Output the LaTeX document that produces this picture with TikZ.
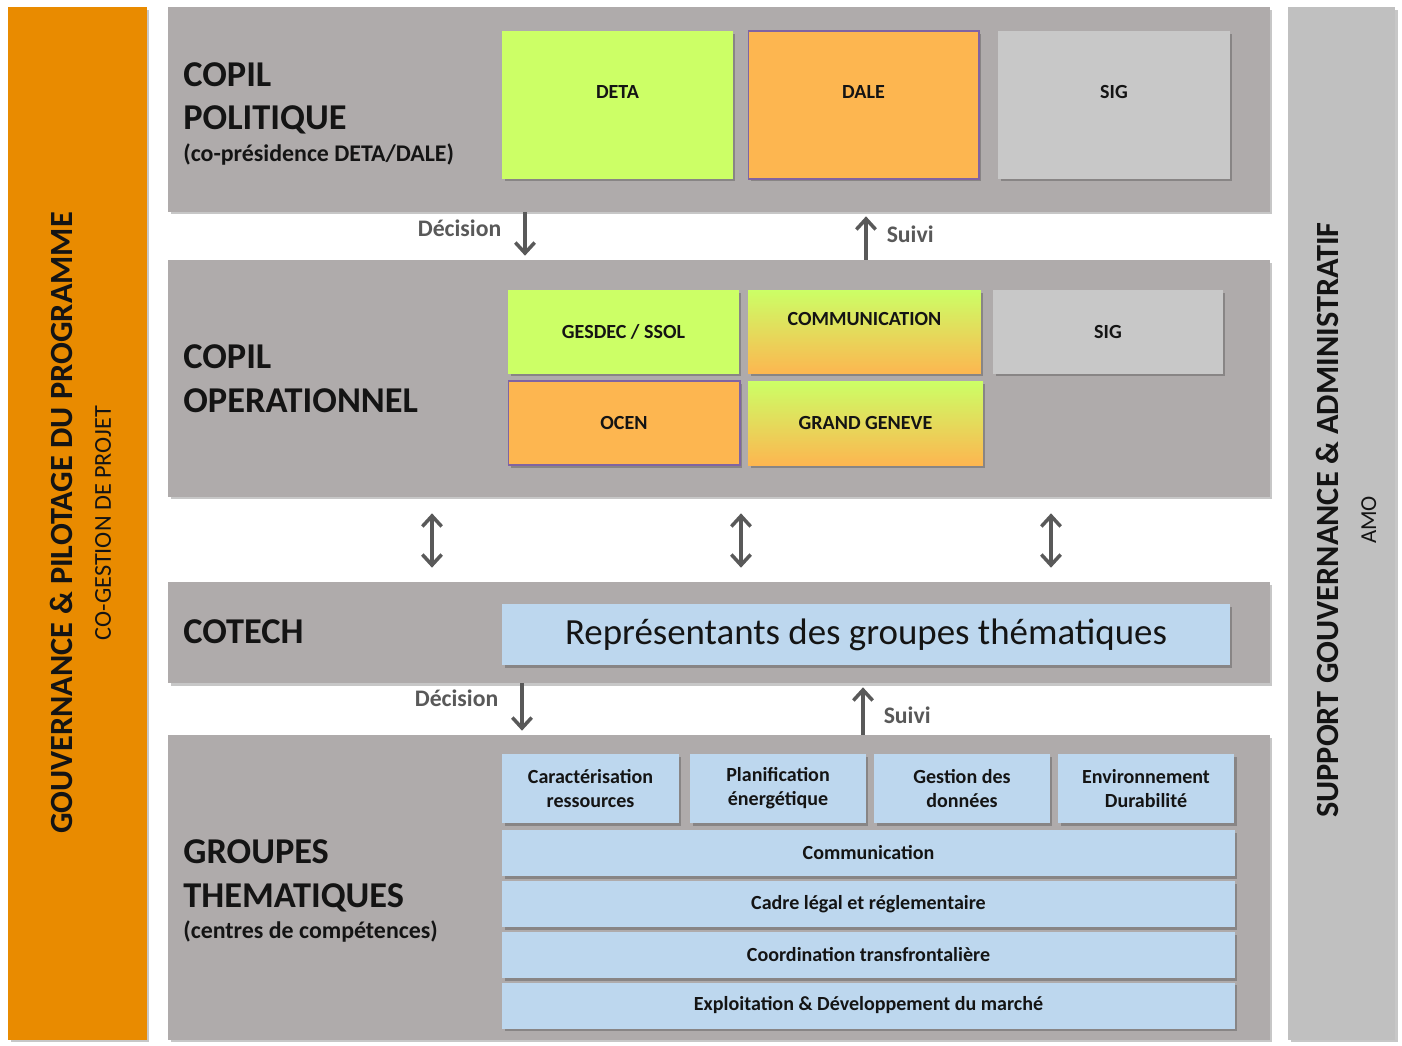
\documentclass[tikz,border=0pt]{standalone}
\usepackage{fontspec}
\setmainfont{Carlito}
\usetikzlibrary{positioning,arrows.meta,shadows}

\definecolor{panelgray}{RGB}{175,171,171}
\definecolor{barorange}{RGB}{233,139,0}
\definecolor{bargrey}{RGB}{192,192,192}
\definecolor{cellgreen}{RGB}{204,255,102}
\definecolor{cellorange}{RGB}{253,182,80}
\definecolor{cellpurple}{RGB}{128,100,162}
\definecolor{cellgrey}{RGB}{200,200,200}
\definecolor{cellblue}{RGB}{189,215,238}
\definecolor{arrowgray}{RGB}{89,89,89}
\definecolor{textdark}{RGB}{20,20,20}

\begin{document}
\begin{tikzpicture}[x=0.02cm,y=-0.02cm,
  boxshadow/.style={drop shadow={shadow xshift=0.05cm,shadow yshift=-0.05cm,opacity=0.22,fill=black}},
  panel/.style={fill=panelgray,minimum width=22.04cm,inner sep=0pt,boxshadow},
  sidebar/.style={minimum height=20.66cm,inner sep=0pt,boxshadow},
  cell/.style={inner sep=0pt,text=textdark,font=\bfseries\fontsize{11.4}{13.7}\selectfont,align=center,boxshadow},
  greencell/.style={cell,fill=cellgreen},
  orangecell/.style={cell,fill=cellorange,draw=cellpurple,line width=0.6pt},
  greycell/.style={cell,fill=cellgrey},
  mixcell/.style={cell,top color=cellgreen,bottom color=cellorange},
  bluecell/.style={cell,fill=cellblue},
  uptext/.style={text depth=0.52cm},
  arr/.style={draw=arrowgray,line width=2pt,-{Straight Barb[length=6pt,width=11pt]},shorten >=0.08cm},
  darr/.style={arr,{Straight Barb[length=6pt,width=11pt]}-{Straight Barb[length=6pt,width=11pt]},shorten <=0.32cm,shorten >=0.28cm},
  lbl/.style={text=arrowgray,font=\bfseries\fontsize{13.5}{16}\selectfont,inner sep=0pt},
  title/.style={anchor=base west,inner sep=0pt,text=textdark,font=\bfseries\fontsize{20.7}{24}\selectfont},
  subtitle/.style={anchor=base west,inner sep=0pt,text=textdark,font=\bfseries\fontsize{13.6}{16}\selectfont}]

  \fill[white] (0,0) rectangle (1402,1045);
  \useasboundingbox (0,0) rectangle (1402,1045);

  \node[sidebar,fill=barorange,minimum width=2.78cm] (gouv) at (77.5,523.5) {};
  \node[sidebar,fill=bargrey,minimum width=2.14cm] (support) at (1341.5,523.5) {};
  \node[rotate=90,align=center,text=textdark,font=\bfseries\fontsize{18.4}{22}\selectfont] (gouvtext) at (80.5,523) {GOUVERNANCE \& PILOTAGE DU PROGRAMME\\{\mdseries\fontsize{13.8}{16}\selectfont CO-GESTION DE PROJET}};
  \node[rotate=90,align=center,text=textdark,font=\bfseries\fontsize{18.4}{21.6}\selectfont] (supporttext) at (1346,520) {SUPPORT GOUVERNANCE \& ADMINISTRATIF\\{\mdseries\fontsize{13}{16}\selectfont AMO}};

  \node[panel,minimum height=4.10cm] (copilpol) at (719,109.5) {};
  \node[panel,minimum height=4.74cm] (copilop) at (719,378.5) {};
  \node[panel,minimum height=2.02cm] (cotech) at (719,632.5) {};
  \node[panel,minimum height=6.10cm] (groupes) at (719,887.5) {};

  \node[title] (poltitle1) at (183,86) {COPIL};
  \node[title] (poltitle2) at (183,129) {POLITIQUE};
  \node[subtitle] (poltitle3) at (183,161) {(co-présidence DETA/DALE)};
  \node[title] (optitle1) at (183,368) {COPIL};
  \node[title] (optitle2) at (183,412) {OPERATIONNEL};
  \node[title] (techtitle) at (183,643) {COTECH};
  \node[title] (grptitle1) at (183,863) {GROUPES};
  \node[title] (grptitle2) at (183,907) {THEMATIQUES};
  \node[subtitle] (grptitle3) at (183,938) {(centres de compétences)};

  \node[greencell,uptext,minimum width=4.62cm,minimum height=2.96cm] (deta) at (617.5,105) {DETA};
  \node[orangecell,uptext,minimum width=4.62cm,minimum height=2.96cm] (dale) at (863.5,105) {DALE};
  \node[greycell,uptext,minimum width=4.64cm,minimum height=2.96cm] (sig) at (1114,105) {SIG};

  \node[greencell,minimum width=4.62cm,minimum height=1.68cm] (gesdec) at (623.5,332) {GESDEC / SSOL};
  \node[mixcell,uptext,minimum width=4.66cm,minimum height=1.68cm] (comm) at (864.5,332) {COMMUNICATION};
  \node[greycell,minimum width=4.60cm,minimum height=1.68cm] (sigop) at (1108,332) {SIG};
  \node[orangecell,minimum width=4.64cm,minimum height=1.68cm] (ocen) at (624,423) {OCEN};
  \node[mixcell,minimum width=4.70cm,minimum height=1.68cm] (geneve) at (865.5,423) {GRAND GENEVE};

  \node[bluecell,font=\fontsize{21}{25}\selectfont,minimum width=14.56cm,minimum height=1.22cm] (repr) at (866,634.5) {Représentants des groupes thématiques};

  \node[bluecell,minimum width=3.54cm,minimum height=1.38cm] (carac) at (590.5,788.5) {Caractérisation\\ressources};
  \node[bluecell,minimum width=3.52cm,minimum height=1.38cm] (planif) at (778,788.5) {Planification\\énergétique};
  \node[bluecell,minimum width=3.52cm,minimum height=1.38cm] (gestion) at (962,788.5) {Gestion des\\données};
  \node[bluecell,minimum width=3.52cm,minimum height=1.38cm] (envir) at (1146,788.5) {Environnement\\Durabilité};
  \node[bluecell,minimum width=14.66cm,minimum height=0.92cm] (commgrp) at (868.5,853) {Communication};
  \node[bluecell,minimum width=14.66cm,minimum height=0.92cm] (cadre) at (868.5,904) {Cadre légal et réglementaire};
  \node[bluecell,minimum width=14.66cm,minimum height=0.92cm] (coord) at (868.5,955) {Coordination transfrontalière};
  \node[bluecell,minimum width=14.66cm,minimum height=0.92cm] (exploit) at (868.5,1005.5) {Exploitation \& Développement du marché};

  \draw[arr] (copilpol.south -| 525,0) -- (copilop.north -| 525,0) node[lbl,pos=0.33,left=0.44cm] {Décision};
  \draw[arr] (copilop.north -| 866,0) -- (copilpol.south -| 866,0) node[lbl,pos=0.54,right=0.38cm] {Suivi};

  \draw[darr] (copilop.south -| 432,0) -- (cotech.north -| 432,0);
  \draw[darr] (copilop.south -| 741,0) -- (cotech.north -| 741,0);
  \draw[darr] (copilop.south -| 1051,0) -- (cotech.north -| 1051,0);

  \draw[arr] (cotech.south -| 522,0) -- (groupes.north -| 522,0) node[lbl,pos=0.29,left=0.44cm] {Décision};
  \draw[arr] (groupes.north -| 863,0) -- (cotech.south -| 863,0) node[lbl,pos=0.37,right=0.38cm] {Suivi};
\end{tikzpicture}
\end{document}
